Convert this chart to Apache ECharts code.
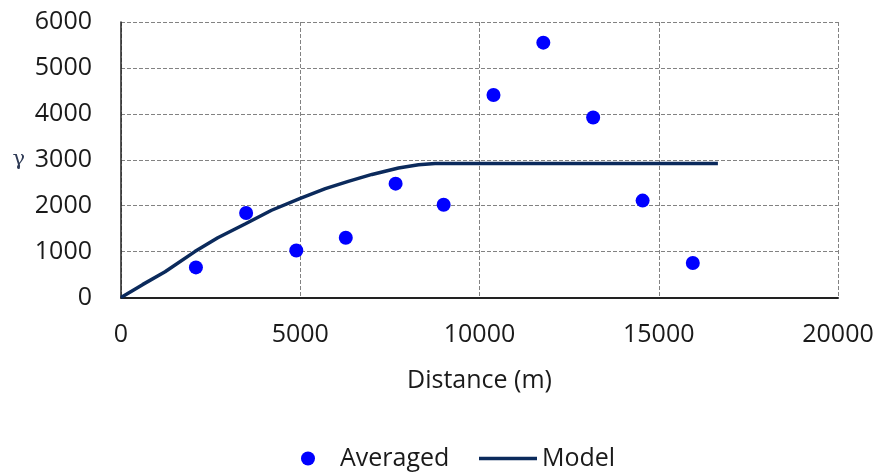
<!DOCTYPE html>
<html>
<head>
<meta charset="utf-8">
<script src="https://cdn.jsdelivr.net/npm/echarts@6/dist/echarts.min.js"></script>
<style>
  html, body { margin: 0; padding: 0; background: #fff; }
  #chart { width: 878px; height: 473px; }
</style>
</head>
<body>
<div id="chart"></div>
<script>
// 平均半变异值（滞后距离 / γ）
const lagDistance = [2090, 3490, 4890, 6270, 7660, 9000, 10390, 11780, 13170, 14550, 15950];
const averagedGamma = [655, 1840, 1025, 1300, 2480, 2020, 4410, 5550, 3920, 2110, 750];

// 模型曲线，从图上读出的点
const modelDistance = [0, 600, 1230, 2060, 2700, 3460, 4200, 5000, 5700, 6340, 7000, 7740, 8300, 8760, 16650];
const modelGamma = [0, 280, 560, 1000, 1300, 1600, 1900, 2160, 2370, 2530, 2680, 2820, 2890, 2920, 2920];

const FONT = 'Open Sans';

function zip(xs, ys) {
  return xs.map((x, i) => [x, ys[i]]);
}

let myChart = echarts.init(document.getElementById('chart'));
let option = {
  backgroundColor: '#fff',
  animation: false,
  grid: { left: 121, right: 40, top: 22, bottom: 175.5 },
  xAxis: {
    type: 'value',
    min: 0, max: 20000, interval: 5000,
    name: 'Distance (m)',
    nameLocation: 'middle',
    nameGap: 71,
    nameTextStyle: { fontFamily: FONT, fontSize: 25, color: '#1a1a1a' },
    axisLine: { lineStyle: { color: '#222', width: 2 } },
    axisTick: { show: false },
    axisLabel: { fontFamily: FONT, fontSize: 25, color: '#1a1a1a', margin: 25, formatter: v => String(v) },
    splitLine: { show: true, lineStyle: { color: '#828282', type: [4, 2], width: 1 } }
  },
  yAxis: {
    type: 'value',
    min: 0, max: 6000, interval: 1000,
    name: 'γ',
    nameLocation: 'middle',
    nameRotate: 0,
    nameGap: 96,
    nameTextStyle: { fontFamily: 'DejaVu Serif', fontSize: 21, color: '#2e3a55' },
    axisLine: { show: true, lineStyle: { color: '#222', width: 1.5 } },
    axisTick: { show: false },
    axisLabel: { fontFamily: FONT, fontSize: 25, color: '#1a1a1a', margin: 29, formatter: v => String(v) },
    splitLine: { show: true, lineStyle: { color: '#828282', type: [4, 2], width: 1 } }
  },
  legend: [{
    data: ['Averaged'],
    left: 296, top: 441,
    itemWidth: 14, itemHeight: 14,
    textStyle: { fontFamily: FONT, fontSize: 25, color: '#1a1a1a', padding: [0, 0, 0, 20] }
  }, {
    data: [{ name: 'Model', icon: 'rect' }],
    left: 474, top: 441,
    itemWidth: 58, itemHeight: 3.5,
    textStyle: { fontFamily: FONT, fontSize: 25, color: '#1a1a1a' }
  }],
  series: [{
    name: 'Averaged',
    type: 'scatter',
    symbol: 'circle',
    symbolSize: 14,
    itemStyle: { color: '#0000ff', opacity: 1 },
    data: zip(lagDistance, averagedGamma),
    z: 3
  }, {
    name: 'Model',
    type: 'line',
    symbol: 'none',
    lineStyle: { color: '#0b2a5c', width: 3.5 },
    itemStyle: { color: '#0b2a5c' },
    data: zip(modelDistance, modelGamma),
    z: 4
  }]
};
myChart.setOption(option);
window.onresize = () => {
  myChart.resize();
};
</script>
</body>
</html>
